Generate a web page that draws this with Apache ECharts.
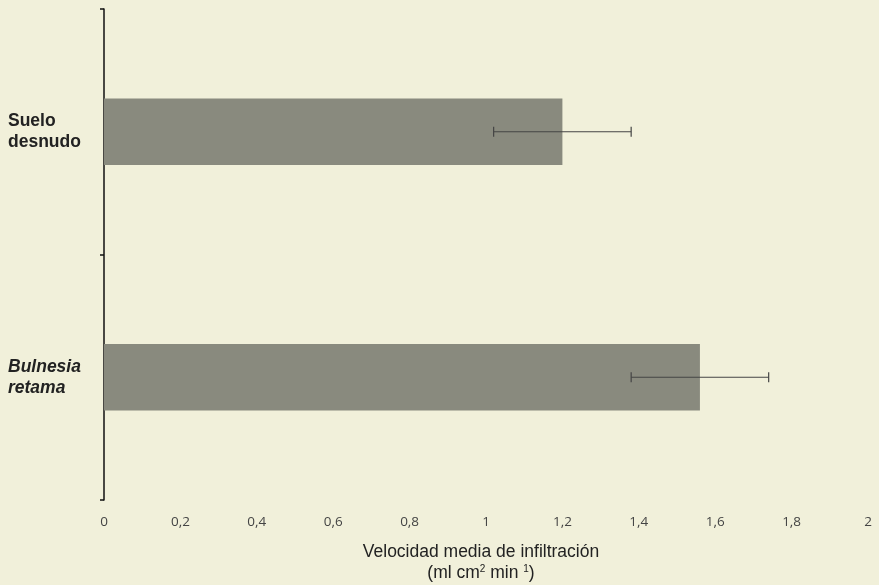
<!DOCTYPE html>
<html><head><meta charset="utf-8">
<script src="https://cdn.jsdelivr.net/npm/echarts@6/dist/echarts.min.js"></script>
<style>html,body{margin:0;padding:0;background:#F1F0DA}#c{width:879px;height:585px}</style>
</head><body><div id="c"></div>
<script>
var categories = ['Suelo desnudo', 'Bulnesia retama'];
var values = [1.20, 1.56];
var errors = [0.18, 0.18];
var xTicks = [0, 0.2, 0.4, 0.6, 0.8, 1, 1.2, 1.4, 1.6, 1.8, 2];

var chart = echarts.init(document.getElementById('c'));
chart.setOption({
  backgroundColor: '#F1F0DA',
  animation: false,
  grid: {left: 104, right: 11, top: 9, bottom: 85, outerBoundsMode: 'none', containLabel: false},
  xAxis: {
    type: 'value', min: 0, max: 2, interval: 0.2,
    axisLine: {show: false}, axisTick: {show: false}, splitLine: {show: false},
    axisLabel: {
      margin: 15, color: '#444', fontFamily: 'Open Sans', fontSize: 13.5,
      formatter: function (v) { return String(Math.round(v * 10) / 10).replace('.', ','); }
    },
    name: '{t|Velocidad media de infiltración}\n{t|(ml cm}{s|2}{t| min }{s|1}{t|)}',
    nameLocation: 'middle', nameGap: 40,
    nameTextStyle: {
      lineHeight: 21, padding: [0, 10, 0, 0],
      rich: {
        t: {fontFamily: 'Liberation Sans', fontSize: 17.5, color: '#222', lineHeight: 21, verticalAlign: 'bottom'},
        s: {fontFamily: 'Liberation Sans', fontSize: 10, color: '#222', verticalAlign: 'bottom', padding: [0, 0, 8, 0]}
      }
    }
  },
  yAxis: {
    type: 'category', data: categories, inverse: true,
    axisLine: {show: true, lineStyle: {color: '#111', width: 1.5}},
    axisTick: {show: true, length: 4, lineStyle: {color: '#111', width: 1.5}},
    axisLabel: {
      align: 'left', margin: 96,
      formatter: function (v, i) {
        var w = v.split(' ');
        var st = i === 1 ? 'i' : 'b';
        return '{' + st + '|' + w[0] + '}\n{' + st + '|' + w[1] + '}';
      },
      rich: {
        b: {fontFamily: 'Liberation Sans', fontWeight: 'bold', fontSize: 17.5, color: '#222', lineHeight: 21},
        i: {fontFamily: 'Liberation Sans', fontWeight: 'bold', fontStyle: 'italic', fontSize: 17.5, color: '#222', lineHeight: 21}
      }
    }
  },
  series: [{
    type: 'bar', data: values, barWidth: '27%',
    itemStyle: {color: '#898A7E'}
  }, {
    type: 'custom',
    data: values.map(function (v, i) { return [i, v - errors[i], v + errors[i]]; }),
    renderItem: function (params, api) {
      var c = api.value(0);
      var lo = api.coord([api.value(1), c]);
      var hi = api.coord([api.value(2), c]);
      var h = 5;
      var style = {stroke: '#444', lineWidth: 1.2};
      return {type: 'group', children: [
        {type: 'line', shape: {x1: lo[0], y1: lo[1], x2: hi[0], y2: hi[1]}, style: style},
        {type: 'line', shape: {x1: lo[0], y1: lo[1] - h, x2: lo[0], y2: lo[1] + h}, style: style},
        {type: 'line', shape: {x1: hi[0], y1: hi[1] - h, x2: hi[0], y2: hi[1] + h}, style: style}
      ]};
    },
    encode: {y: 0, x: [1, 2]},
    z: 5
  }]
});
</script></body></html>
